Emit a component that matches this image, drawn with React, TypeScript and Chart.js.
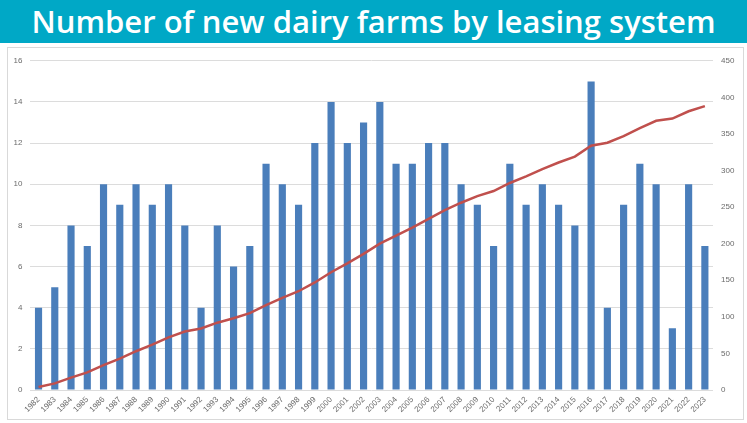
import React, { useEffect, useRef } from "react";
import { Chart, registerables } from "chart.js";

Chart.register(...registerables);

const years: string[] = [
  "1982", "1983", "1984", "1985", "1986", "1987", "1988", "1989", "1990", "1991",
  "1992", "1993", "1994", "1995", "1996", "1997", "1998", "1999", "2000", "2001",
  "2002", "2003", "2004", "2005", "2006", "2007", "2008", "2009", "2010", "2011",
  "2012", "2013", "2014", "2015", "2016", "2017", "2018", "2019", "2020", "2021",
  "2022", "2023",
];

const newFarms: number[] = [
  4, 5, 8, 7, 10, 9, 10, 9, 10, 8,
  4, 8, 6, 7, 11, 10, 9, 12, 14, 12,
  13, 14, 11, 11, 12, 12, 10, 9, 7, 11,
  9, 10, 9, 8, 15, 4, 9, 11, 10, 3,
  10, 7,
];

const cumulativeFarms: number[] = [
  4, 9, 17, 24, 34, 43, 53, 62, 72, 80,
  84, 92, 98, 105, 116, 126, 135, 147, 161, 173,
  186, 200, 211, 222, 234, 246, 256, 265, 272, 283,
  292, 302, 311, 319, 334, 338, 347, 358, 368, 371,
  381, 388,
];

const TITLE = "Number of new dairy farms by leasing system";

export default function App() {
  const canvasRef = useRef<HTMLCanvasElement | null>(null);

  useEffect(() => {
    if (!canvasRef.current) return;
    const tickColor = "#6b6b6b";
    const chart = new Chart(canvasRef.current, {
      type: "bar",
      data: {
        labels: years,
        datasets: [
          {
            type: "line",
            label: "Cumulative",
            data: cumulativeFarms,
            yAxisID: "y1",
            borderColor: "#C0504D",
            backgroundColor: "#C0504D",
            borderWidth: 2.5,
            pointRadius: 0,
            tension: 0,
            order: 0,
          },
          {
            type: "bar",
            label: "New farms",
            data: newFarms,
            yAxisID: "y",
            backgroundColor: "#4A7EBB",
            borderWidth: 0,
            categoryPercentage: 1,
            barPercentage: 0.44,
            order: 1,
          },
        ],
      },
      options: {
        responsive: false,
        animation: false,
        layout: { padding: { top: 9, left: 0, right: 0, bottom: 0 } },
        plugins: {
          legend: { display: false },
          tooltip: { enabled: false },
        },
        scales: {
          x: {
            grid: { display: false, drawTicks: false },
            border: { display: false },
            ticks: {
              autoSkip: false,
              minRotation: 45,
              maxRotation: 45,
              padding: 5,
              color: tickColor,
              font: { family: "Liberation Sans", size: 8 },
            },
            afterFit: (s: any) => {
              s.height = 29;
            },
          },
          y: {
            position: "left",
            min: 0,
            max: 16,
            ticks: {
              stepSize: 2,
              padding: 8,
              color: tickColor,
              font: { family: "Liberation Sans", size: 8 },
            },
            grid: { color: "#dcdcdc", drawTicks: false, lineWidth: 1 },
            border: { display: false },
            afterFit: (s: any) => {
              s.width = 22.4;
            },
          },
          y1: {
            position: "right",
            min: 0,
            max: 450,
            ticks: {
              stepSize: 50,
              padding: 8,
              color: tickColor,
              font: { family: "Liberation Sans", size: 8 },
            },
            grid: { display: false, drawTicks: false },
            border: { display: false },
            afterFit: (s: any) => {
              s.width = 30;
            },
          },
        },
      },
    });
    return () => chart.destroy();
  }, []);

  return (
    <div
      style={{
        position: "absolute",
        left: 0,
        top: 0,
        width: 747,
        height: 423,
        background: "#ffffff",
        overflow: "hidden",
      }}
    >
      <div
        style={{
          position: "absolute",
          left: 0,
          top: 0,
          width: 747,
          height: 43,
          background: "#00A8C6",
          color: "#ffffff",
          fontFamily: "'Open Sans', sans-serif",
          fontWeight: 600,
          fontSize: 31,
          lineHeight: "42px",
          textAlign: "center",
          whiteSpace: "nowrap",
        }}
      >
        {TITLE}
      </div>
      <div
        style={{
          position: "absolute",
          left: 7,
          top: 47,
          width: 737,
          height: 373,
          border: "1px solid #d9d9d9",
          boxSizing: "border-box",
        }}
      >
        <canvas ref={canvasRef} width={735} height={371} style={{ display: "block" }} />
      </div>
    </div>
  );
}
